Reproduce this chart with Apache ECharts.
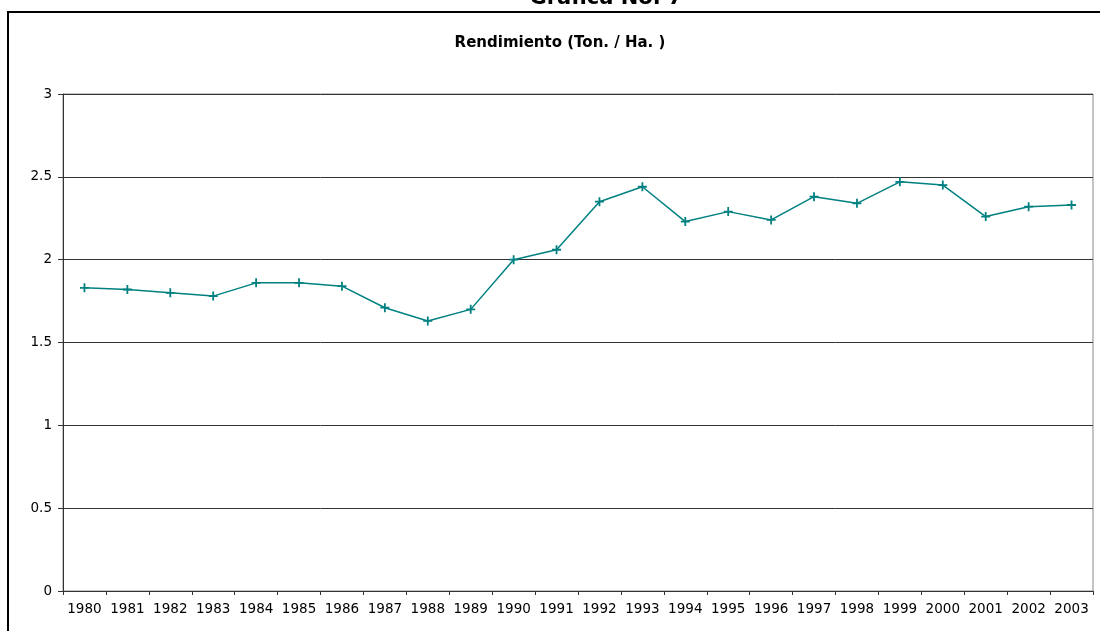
<!DOCTYPE html>
<html>
<head>
<meta charset="utf-8">
<script src="https://cdn.jsdelivr.net/npm/echarts@6/dist/echarts.min.js"></script>
<style>
html,body{margin:0;padding:0;background:#fff;}
#c{width:1100px;height:631px;}
</style>
</head>
<body>
<div id="c"></div>
<script>
var years = ['1980','1981','1982','1983','1984','1985','1986','1987','1988','1989','1990','1991','1992','1993','1994','1995','1996','1997','1998','1999','2000','2001','2002','2003'];
var rendimiento = [1.83,1.82,1.80,1.78,1.86,1.86,1.84,1.71,1.63,1.70,2.00,2.06,2.35,2.44,2.23,2.29,2.24,2.38,2.34,2.47,2.45,2.26,2.32,2.33];
var yTicks = [0, 0.5, 1, 1.5, 2, 2.5, 3];

var chart = echarts.init(document.getElementById('c'), null, {renderer:'canvas'});
var font = '"DejaVu Sans", sans-serif';
chart.setOption({
  animation:false,
  backgroundColor:'#fff',
  graphic:[
    {type:'rect', shape:{x:8, y:12, width:1200, height:700}, style:{fill:'none', stroke:'#000', lineWidth:2}, z:-1},
    {type:'text', x:606, y:9, style:{text:'Grafica No. 7', font:'bold 21px '+font, fill:'#000', textAlign:'center', textVerticalAlign:'bottom'}},
    {type:'text', x:560, y:43, style:{text:'Rendimiento (Ton. / Ha. )', font:'bold 15px '+font, fill:'#000', textAlign:'center', textVerticalAlign:'middle'}}
  ],
  grid:{left:63, right:7, top:94, bottom:40, show:true, borderColor:'#888', borderWidth:1},
  xAxis:{
    type:'category', data:years, boundaryGap:true,
    axisLine:{lineStyle:{color:'#333', width:1}},
    axisTick:{show:true, length:4, lineStyle:{color:'#333'}},
    axisLabel:{color:'#000', fontFamily:font, fontSize:13.5, margin:11, interval:0}
  },
  yAxis:{
    type:'value', min:yTicks[0], max:yTicks[yTicks.length-1], interval:0.5,
    axisLine:{show:true, lineStyle:{color:'#333', width:1}},
    axisTick:{show:true, length:5, lineStyle:{color:'#333'}},
    axisLabel:{color:'#000', fontFamily:font, fontSize:13.5, margin:11},
    splitLine:{show:true, lineStyle:{color:'#333', width:1}}
  },
  series:[{
    type:'line', data:rendimiento,
    symbol:'path://M4,0 L6,0 L6,4 L10,4 L10,6 L6,6 L6,10 L4,10 L4,6 L0,6 L0,4 L4,4 Z',
    symbolSize:9, showSymbol:true,
    lineStyle:{color:'#008080', width:1.5},
    itemStyle:{color:'#008080'}
  }]
});
</script>
</body>
</html>
